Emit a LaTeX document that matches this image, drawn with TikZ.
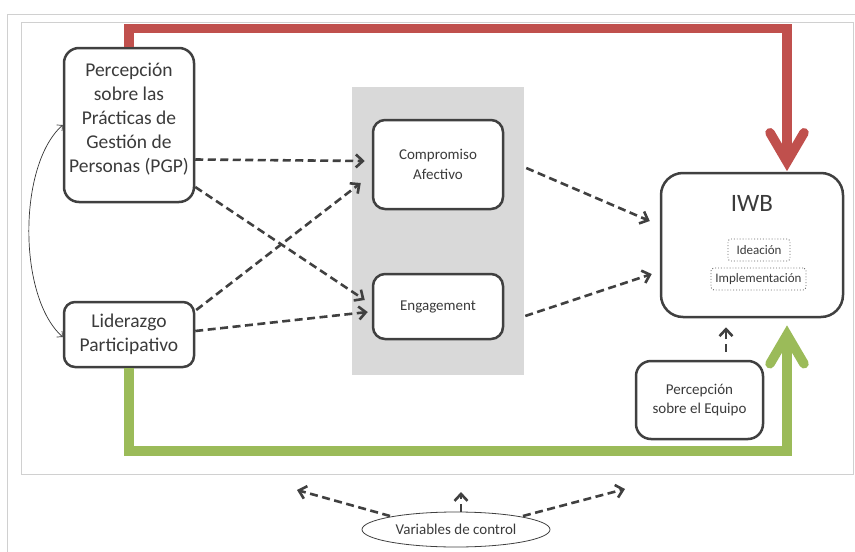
\documentclass[tikz,border=0pt]{standalone}
\usepackage{fontspec}
\setmainfont{Carlito}
\usetikzlibrary{arrows.meta,shapes.geometric,calc}
\definecolor{boxc}{HTML}{404040}
\definecolor{txtc}{HTML}{3B3B3B}
\definecolor{redc}{HTML}{C0504D}
\definecolor{greenc}{HTML}{9BBB59}
\definecolor{greyfill}{HTML}{D9D9D9}
\definecolor{framec}{HTML}{D0D0D0}
\begin{document}
\begin{tikzpicture}[x=1pt,y=-1pt,
  box/.style={draw=boxc, line width=2.5pt, rounded corners=#1, text=txtc, align=center, inner sep=0pt, fill=white},
  box/.default=12pt,
  dbox/.style={draw=boxc!80, dotted, line width=0.9pt, rounded corners=3pt, text=txtc, inner sep=0pt, font=\fontsize{13}{15}\selectfont},
  darr/.style={draw=boxc, line width=2.6pt, dash pattern=on 8pt off 4.5pt, -{Straight Barb[length=7pt,width=13pt]}},
  thick/.style={line width=9.5pt, line join=miter},
  chev/.style={line width=9.5pt, line join=miter, line cap=round},
  fbig/.style={font=\fontsize{19.5}{24}\selectfont},
  fmid/.style={font=\fontsize{15}{19.5}\selectfont}]
\useasboundingbox (0,0) rectangle (855,552);
% frames
\draw[framec, line width=1.3pt] (7.5,552) -- (7.5,14.5) -- (855,14.5);
\draw[framec, line width=1pt] (21.5,22) rectangle (853.5,474.5);
% grey mediator area
\node[fill=greyfill, minimum width=172, minimum height=288, inner sep=0pt] (med) at (438,231) {};
% nodes
\node[box=15pt, minimum width=130, minimum height=154, fbig] (PGP) at (129,125) {Percepción\\sobre las\\Prácticas de\\Gestión de\\Personas (PGP)\rule[-15pt]{0pt}{15pt}};
\node[box=11pt, minimum width=130, minimum height=65, fbig] (Lid) at (129,334.5) {Liderazgo\\Participativo};
\node[box=12pt, minimum width=130, minimum height=89, fmid] (Comp) at (438,164.5) {Compromiso\\Afectivo};
\node[box=12pt, minimum width=130, minimum height=65, fmid] (Eng) at (438,306.5) {Engagement};
\node[box=22pt, minimum width=182, minimum height=144] (IWB) at (752,245) {};
\node[text=txtc, font=\fontsize{25}{30}\selectfont, inner sep=0pt] (IWBt) at (752,203) {IWB};
\node[dbox, minimum width=62, minimum height=22] (Idea) at (759,250) {Ideación};
\node[dbox, minimum width=95, minimum height=22] (Impl) at (758.5,279) {Implementación};
\node[box=15pt, minimum width=127, minimum height=78, fmid] (Team) at (699.5,400) {Percepción\\sobre el Equipo};
\node[ellipse, draw=boxc, line width=0.8pt, minimum width=188, minimum height=35, inner sep=0pt, text=txtc, fmid] (Var) at (456,529.5) {Variables de control};
\coordinate (cL) at (297,490);
\coordinate (cU) at (461,492);
\coordinate (cR) at (625,489);
% thick direct effects
\draw[redc, thick] (PGP.north) |- ([shift={(35,-143.5)}]IWB.north) -- ([shift={(35,-10)}]IWB.north);
\draw[redc, chev] ([shift={(18,-39)}]IWB.north) -- ([shift={(35,-10)}]IWB.north) -- ([shift={(52,-39)}]IWB.north);
\draw[greenc, thick] (Lid.south) |- ([shift={(35,132.5)}]IWB.south) -- ([shift={(35,16.5)}]IWB.south);
\draw[greenc, chev] ([shift={(18,45.5)}]IWB.south) -- ([shift={(35,16.5)}]IWB.south) -- ([shift={(52,45.5)}]IWB.south);
% dashed paths
\draw[darr] ([shift={(0,34.5)}]PGP.east) -- ([shift={(-7,-3.5)}]Comp.west);
\draw[darr] ([shift={(0,62)}]PGP.east) -- ([shift={(-7,-6.5)}]Eng.west);
\draw[darr] ([shift={(1,-24.5)}]Lid.east) -- ([shift={(-11,18.5)}]Comp.west);
\draw[darr] ([shift={(0,-3.5)}]Lid.east) -- ([shift={(-4,5.5)}]Eng.west);
\draw[darr] ([shift={(22,3.5)}]Comp.east) -- ([shift={(-10,-24)}]IWB.west);
\draw[darr] ([shift={(21,9.5)}]Eng.east) -- ([shift={(-8,29)}]IWB.west);
\draw[darr] ([shift={(26.5,-8)}]Team.north) -- ([shift={(-26,9)}]IWB.south);
\draw[darr] ([shift={(-66,-13.5)}]Var.center) -- (cL);
\draw[darr] ([shift={(5,0)}]Var.north) -- (cU);
\draw[darr] ([shift={(67,-13.5)}]Var.center) -- (cR);
% correlation
\draw[black!80, line width=0.7pt, {Straight Barb[length=4pt,width=8pt]}-{Straight Barb[length=4pt,width=8pt]}]
  ([shift={(0,2.5)}]Lid.west) .. controls +(-45,-40) and +(-45,40) .. (PGP.west);
\end{tikzpicture}
\end{document}
